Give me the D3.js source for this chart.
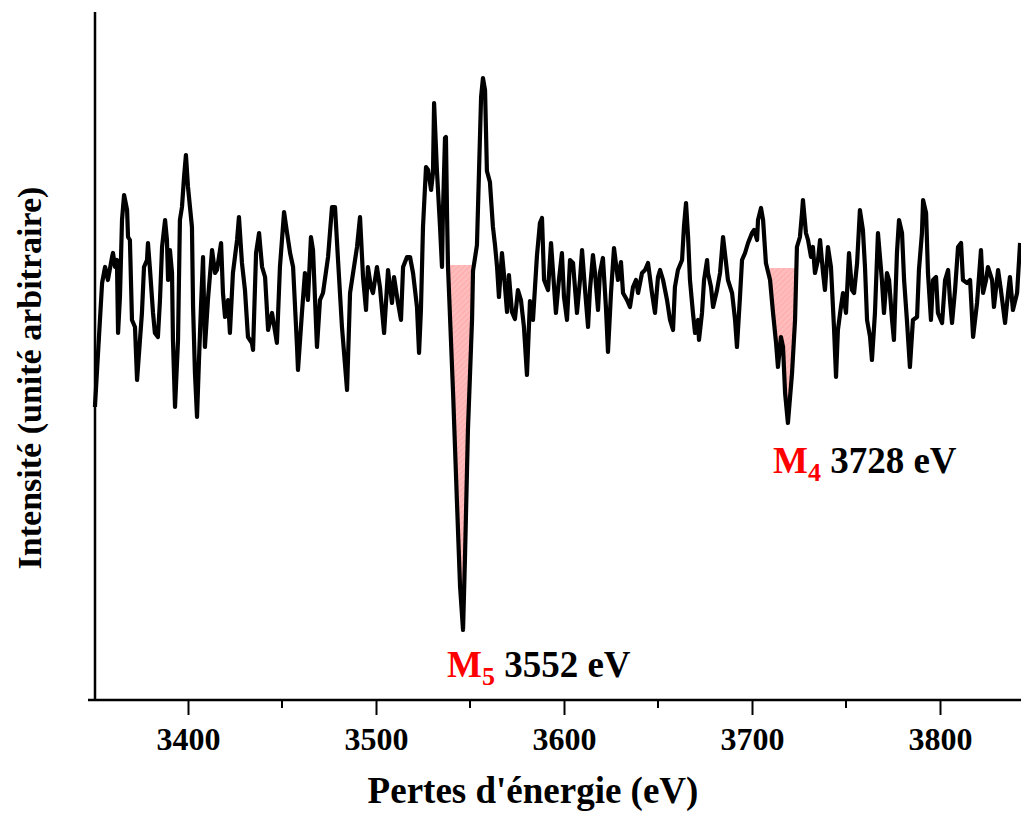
<!DOCTYPE html>
<html>
<head>
<meta charset="utf-8">
<script src="https://cdn.jsdelivr.net/npm/d3@7"></script>
<style>
  html, body { margin: 0; padding: 0; background: #fff; }
  svg { display: block; }
  text { font-family: "Liberation Serif", "Times New Roman", serif; font-weight: bold; }
</style>
</head>
<body>
<div id="chart"></div>
<script>
var widthT = 1021, heightT = 814;

// energy loss (eV)
var energy = [
  3350.5, 3354.3, 3355.9, 3357.4, 3359.6, 3360.1, 3361.2, 3362.2, 3362.8, 3363.8,
  3364.9, 3366.0, 3367.6, 3368.1, 3369.1, 3370.2, 3371.8, 3372.9, 3373.4, 3375.5,
  3376.6, 3378.2, 3378.7, 3379.8, 3381.4, 3382.4, 3384.0, 3385.1, 3386.2, 3387.8,
  3388.8, 3389.4, 3390.4, 3391.5, 3392.0, 3393.1, 3394.7, 3395.7, 3396.8, 3397.9,
  3398.9, 3400.0, 3402.1, 3402.7, 3403.7, 3404.8, 3405.9, 3406.9, 3408.0, 3409.0,
  3410.6, 3412.8, 3414.4, 3415.4, 3417.6, 3418.6, 3419.7, 3421.3, 3422.3, 3423.9,
  3426.1, 3427.1, 3428.7, 3430.3, 3431.9, 3434.0, 3434.6, 3436.2, 3437.8, 3439.4,
  3441.0, 3442.6, 3444.7, 3447.3, 3448.9, 3451.1, 3452.7, 3454.3, 3455.9, 3458.0,
  3458.5, 3460.6, 3462.2, 3463.8, 3465.4, 3466.5, 3468.6, 3470.2, 3471.8, 3474.5,
  3476.6, 3478.2, 3479.8, 3481.9, 3484.6, 3486.2, 3487.8, 3489.9, 3491.5, 3493.1,
  3494.7, 3495.7, 3497.3, 3498.4, 3500.5, 3502.1, 3504.3, 3506.4, 3508.5, 3509.6,
  3511.7, 3513.3, 3514.4, 3516.5, 3518.1, 3519.7, 3521.8, 3522.9, 3523.9, 3525.0,
  3526.6, 3527.7, 3529.3, 3530.3, 3530.9, 3532.4, 3534.0, 3535.1, 3535.6, 3536.7,
  3537.2, 3537.8, 3538.3, 3541.0, 3543.1, 3544.7, 3546.3, 3547.3, 3548.9, 3551.1,
  3551.6, 3553.7, 3554.8, 3555.9, 3556.9, 3558.0, 3559.0, 3560.6, 3562.2, 3563.3,
  3564.4, 3565.4, 3567.0, 3568.1, 3569.7, 3570.7, 3572.3, 3573.9, 3575.5, 3577.1,
  3578.7, 3580.3, 3581.9, 3583.5, 3585.6, 3587.2, 3588.3, 3589.4, 3591.5, 3593.1,
  3594.2, 3595.7, 3597.3, 3598.9, 3600.0, 3601.6, 3603.2, 3604.8, 3606.9, 3608.5,
  3609.6, 3611.2, 3612.8, 3613.8, 3615.4, 3616.5, 3618.1, 3619.1, 3620.7, 3622.3,
  3623.4, 3625.0, 3626.6, 3628.7, 3630.3, 3631.4, 3633.5, 3635.1, 3636.7, 3638.3,
  3639.4, 3641.5, 3643.1, 3644.7, 3646.8, 3648.4, 3650.0, 3651.1, 3652.7, 3654.8,
  3656.4, 3658.0, 3659.0, 3660.6, 3662.8, 3663.8, 3664.9, 3666.0, 3667.0, 3668.6,
  3669.7, 3671.3, 3671.8, 3673.4, 3674.5, 3676.1, 3676.6, 3678.2, 3679.3, 3681.4,
  3683.0, 3684.6, 3686.2, 3687.2, 3689.4, 3691.0, 3692.0, 3693.6, 3694.7, 3696.3,
  3697.9, 3700.0, 3701.1, 3702.7, 3703.2, 3704.8, 3705.9, 3707.4, 3709.6, 3711.2,
  3712.8, 3713.8, 3715.4, 3716.5, 3717.6, 3719.1, 3721.3, 3722.9, 3723.9, 3725.5,
  3726.6, 3727.1, 3728.7, 3729.8, 3731.4, 3732.4, 3733.5, 3735.1, 3736.2, 3737.8,
  3738.8, 3740.4, 3742.0, 3743.6, 3744.7, 3745.7, 3747.3, 3748.4, 3750.0, 3751.6,
  3753.2, 3754.3, 3755.9, 3757.4, 3759.0, 3760.1, 3761.2, 3762.8, 3763.8, 3765.4,
  3767.0, 3769.1, 3770.2, 3771.8, 3772.9, 3774.5, 3775.5, 3777.1, 3778.2, 3779.8,
  3780.9, 3782.4, 3784.0, 3785.6, 3787.8, 3788.8, 3790.4, 3791.0, 3792.6, 3793.6,
  3795.2, 3796.3, 3797.9, 3798.9, 3801.1, 3802.7, 3804.3, 3805.3, 3806.4, 3808.0,
  3809.6, 3811.2, 3812.2, 3814.4, 3816.0, 3817.6, 3819.7, 3821.8, 3822.9, 3824.5,
  3825.5, 3827.7, 3828.7, 3830.9, 3832.4, 3834.6, 3836.2, 3837.2, 3838.8, 3841.0,
  3842.6
];

// intensity (arbitrary units)
var intensity = [
  293, 417, 433, 420, 443, 447, 433, 440, 367, 403,
  480, 505, 490, 463, 460, 380, 373, 320, 333, 387,
  433, 440, 457, 430, 387, 367, 363, 400, 453, 480,
  460, 420, 450, 427, 360, 293, 360, 480, 493, 523,
  545, 513, 473, 393, 327, 283, 343, 393, 443, 353,
  400, 450, 427, 430, 457, 407, 383, 400, 367, 427,
  460, 483, 437, 410, 363, 357, 350, 447, 467, 433,
  423, 370, 387, 357, 433, 488, 467, 447, 433, 353,
  330, 387, 427, 400, 463, 450, 353, 400, 407, 443,
  493, 493, 440, 373, 310, 407, 427, 453, 483, 423,
  390, 433, 413, 407, 433, 413, 367, 430, 397, 423,
  397, 380, 433, 443, 443, 427, 393, 347, 390, 473,
  533, 530, 510, 527, 597, 530, 475, 433, 487, 562,
  563, 484, 433, 307, 196, 114, 70, 140, 270, 381,
  429, 455, 529, 603, 622, 610, 529, 518, 473, 455,
  433, 403, 447, 425, 388, 425, 388, 381, 410, 400,
  373, 325, 399, 380, 444, 477, 482, 420, 410, 457,
  427, 387, 420, 447, 403, 380, 440, 437, 387, 420,
  450, 410, 373, 410, 445, 427, 390, 427, 442, 393,
  348, 407, 452, 420, 438, 407, 400, 393, 413, 420,
  407, 427, 430, 437, 407, 387, 423, 430, 420, 400,
  380, 370, 413, 430, 440, 473, 497, 463, 420, 387,
  367, 380, 360, 387, 420, 440, 427, 413, 393, 410,
  427, 463, 437, 420, 407, 380, 353, 403, 440, 447,
  457, 467, 470, 460, 480, 492, 480, 437, 420, 387,
  357, 333, 363, 353, 307, 277, 327, 380, 453, 463,
  487, 500, 467, 460, 443, 453, 427, 440, 460, 427,
  410, 453, 433, 373, 323, 370, 393, 407, 387, 447,
  410, 407, 437, 490, 470, 433, 380, 363, 340, 387,
  467, 420, 387, 427, 420, 380, 360, 447, 480, 467,
  420, 380, 333, 380, 383, 430, 467, 500, 487, 427,
  380, 420, 423, 387, 377, 420, 430, 400, 377, 410,
  453, 457, 420, 417, 420, 363, 397, 450, 407, 420,
  433, 420, 393, 430, 410, 377, 407, 423, 390, 407,
  457
];

var xTicks = [3400, 3500, 3600, 3700, 3800];
var xMinorTicks = [3450, 3550, 3650, 3750, 3850];

// highlighted edges: [start, end] energy, baseline intensity
var edgeNames = ["M", "M"];
var edgeSubs = ["5", "4"];
var edgeValues = ["3552 eV", "3728 eV"];
var edgeRanges = [[3538.3, 3551.8], [3709.6, 3723.5]];
var edgeBase = [435, 432];

var data = energy.map(function(e, i) { return { e: e, v: intensity[i] }; });

var svg = d3.select("#chart").append("svg")
    .attr("width", widthT)
    .attr("height", heightT);

var x = d3.scaleLinear().domain([3350, 3850]).range([94, 1034]);
var y = d3.scaleLinear().domain([0, 688]).range([700, 12]);

// hatch for the pink areas
var defs = svg.append("defs");
var pat = defs.append("pattern")
    .attr("id", "hatch")
    .attr("patternUnits", "userSpaceOnUse")
    .attr("width", 4).attr("height", 4)
    .attr("patternTransform", "rotate(45)");
pat.append("rect").attr("width", 4).attr("height", 4).attr("fill", "#ffbcbc");
pat.append("rect").attr("width", 1).attr("height", 4).attr("fill", "#ffaaaa");

edgeRanges.forEach(function(r, i) {
  defs.append("clipPath").attr("id", "clip" + i)
    .append("rect")
      .attr("x", x(r[0])).attr("y", 0)
      .attr("width", x(r[1]) - x(r[0])).attr("height", heightT);

  var area = d3.area()
      .x(function(d) { return x(d.e); })
      .y0(y(edgeBase[i]))
      .y1(function(d) { return y(Math.min(d.v, edgeBase[i])); });

  svg.append("path")
      .datum(data.filter(function(d) { return d.e > r[0] - 5 && d.e < r[1] + 5; }))
      .attr("clip-path", "url(#clip" + i + ")")
      .attr("fill", "url(#hatch)")
      .attr("d", area);
});

// spectrum
var line = d3.line()
    .x(function(d) { return x(d.e); })
    .y(function(d) { return y(d.v); });

svg.append("path")
    .datum(data)
    .attr("fill", "none")
    .attr("stroke", "#000")
    .attr("stroke-width", 4.2)
    .attr("stroke-linejoin", "round")
    .attr("d", line);

// x axis
var gx = svg.append("g")
    .attr("transform", "translate(0,700)")
    .call(d3.axisBottom(x).tickValues(xTicks).tickSize(15).tickPadding(12).tickFormat(d3.format("d")));
gx.select(".domain").attr("stroke-width", 2.5).attr("d", "M88,0H1040");
gx.selectAll(".tick line").attr("stroke-width", 2);
gx.selectAll(".tick text")
    .attr("font-size", 32)
    .attr("fill", "#000")
    .attr("font-family", "Liberation Serif");

svg.append("g")
    .attr("transform", "translate(0,700)")
    .selectAll("line")
    .data(xMinorTicks)
    .enter().append("line")
      .attr("x1", function(d) { return x(d); })
      .attr("x2", function(d) { return x(d); })
      .attr("y1", 0).attr("y2", 8)
      .attr("stroke", "#000").attr("stroke-width", 2);

// y axis (no ticks)
svg.append("line")
    .attr("x1", 95).attr("x2", 95)
    .attr("y1", 12).attr("y2", 701)
    .attr("stroke", "#000").attr("stroke-width", 2.5);

// axis titles
svg.append("text")
    .attr("x", 533).attr("y", 803)
    .attr("text-anchor", "middle")
    .attr("font-size", 37)
    .text("Pertes d'énergie (eV)");

svg.append("text")
    .attr("transform", "translate(41,378) rotate(-90)")
    .attr("text-anchor", "middle")
    .attr("font-size", 34)
    .text("Intensité (unité arbitraire)");

// edge labels
var labelPos = [[447, 677], [773, 473]];
labelPos.forEach(function(p, i) {
  var t = svg.append("text")
      .attr("x", p[0]).attr("y", p[1])
      .attr("font-size", 37);
  t.append("tspan").attr("fill", "#ff0000").text(edgeNames[i]);
  t.append("tspan").attr("fill", "#ff0000").attr("font-size", 26).attr("dy", 8).text(edgeSubs[i]);
  t.append("tspan").attr("fill", "#000").attr("dy", -8).text(" " + edgeValues[i]);
});
</script>
</body>
</html>
